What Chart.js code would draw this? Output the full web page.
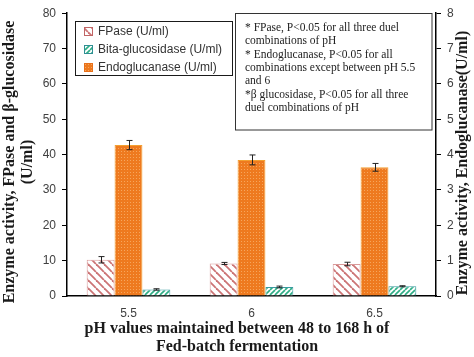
<!DOCTYPE html>
<html>
<head>
<meta charset="utf-8">
<script src="https://cdn.jsdelivr.net/npm/chart.js@4/dist/chart.umd.min.js"></script>
<style>
  html, body { margin: 0; padding: 0; background: #ffffff; }
  #wrap { width: 474px; height: 357px; position: relative; }
</style>
</head>
<body>
<div id="wrap"><canvas id="c" width="474" height="357"></canvas></div>
<script>
// ---- data ----
const categories = ['5.5', '6', '6.5'];
const fpase = [10.25, 9.2, 9.05];
const fpaseErr = [0.9, 0.3, 0.5];
const betaGlucosidase = [1.85, 2.55, 2.75];
const betaErr = [0.2, 0.25, 0.15];
const endoglucanase = [4.27, 3.85, 3.64];
const endoErr = [0.13, 0.14, 0.11];
const legendLabels = ['FPase (U/ml)', 'Bita-glucosidase (U/ml)', 'Endoglucanase (U/ml)'];
const noteLines = [
  '* FPase, P<0.05 for all three duel',
  'combinations of pH',
  '* Endoglucanase, P<0.05 for all',
  'combinations except between pH 5.5',
  'and 6',
  '*\u03B2 glucosidase, P<0.05 for all three',
  'duel combinations of pH'
];
const leftTitle = ['Enzyme activity, FPase and \u03B2-glucosidase', '(U/ml)'];
const rightTitle = 'Enzyme activity, Endoglucanase(U/ml)';
const xTitle = ['pH values maintained between 48 to 168 h of', 'Fed-batch fermentation'];

// ---- patterns ----
function makePattern(size, draw) {
  const c = document.createElement('canvas');
  c.width = size; c.height = size;
  const g = c.getContext('2d');
  draw(g, size);
  return g.createPattern(c, 'repeat');
}
const fpasePattern = makePattern(8, (g, s) => {
  g.fillStyle = '#ffffff'; g.fillRect(0, 0, s, s);
  g.strokeStyle = '#cc7475'; g.lineWidth = 1.8;
  for (const o of [-s, 0, s]) {
    g.beginPath(); g.moveTo(o, 0); g.lineTo(o + s, s); g.stroke();
  }
});
const betaPattern = makePattern(5, (g, s) => {
  g.fillStyle = '#ffffff'; g.fillRect(0, 0, s, s);
  g.strokeStyle = '#2fae86'; g.lineWidth = 1.7;
  for (const o of [-s, 0, s]) {
    g.beginPath(); g.moveTo(o, s); g.lineTo(o + s, 0); g.stroke();
  }
});
const endoPattern = makePattern(3, (g, s) => {
  g.fillStyle = '#ee7a1f'; g.fillRect(0, 0, s, s);
  g.fillStyle = '#f6a65c'; g.fillRect(1, 1, 1, 1);
});

const errorMap = { 0: fpaseErr, 1: endoErr, 2: betaErr };

const errorBars = {
  id: 'errorBars',
  afterDatasetsDraw(chart) {
    const ctx = chart.ctx;
    ctx.save();
    ctx.strokeStyle = '#222222';
    ctx.lineWidth = 1;
    chart.data.datasets.forEach((ds, di) => {
      const meta = chart.getDatasetMeta(di);
      const scale = chart.scales[ds.yAxisID];
      const errs = errorMap[di];
      meta.data.forEach((bar, i) => {
        const v = ds.data[i], e = errs[i];
        const x = Math.round(bar.x) + 0.5;
        const yT = scale.getPixelForValue(v + e);
        const yB = scale.getPixelForValue(v - e);
        ctx.beginPath();
        ctx.moveTo(x, yT); ctx.lineTo(x, yB);
        ctx.moveTo(x - 3, yT); ctx.lineTo(x + 3, yT);
        ctx.moveTo(x - 3, yB); ctx.lineTo(x + 3, yB);
        ctx.stroke();
      });
    });
    ctx.restore();
  }
};

const decorations = {
  id: 'decorations',
  afterDraw(chart) {
    const ctx = chart.ctx;
    ctx.save();
    // legend box
    ctx.fillStyle = '#ffffff';
    ctx.fillRect(75.5, 21.5, 157, 54);
    ctx.strokeStyle = '#1a1a1a'; ctx.lineWidth = 1;
    ctx.strokeRect(75.5, 21.5, 157, 54);
    const sw = [
      { fill: fpasePattern, border: '#c06565' },
      { fill: betaPattern, border: '#2f8f94' },
      { fill: endoPattern, border: '#e8701a' }
    ];
    const rows = [31, 49, 67];
    ctx.font = '12px "Liberation Sans", Arial, sans-serif';
    ctx.textBaseline = 'middle';
    ctx.textAlign = 'left';
    for (let i = 0; i < 3; i++) {
      ctx.fillStyle = sw[i].fill;
      ctx.fillRect(84.5, rows[i] - 4, 8, 8);
      ctx.strokeStyle = sw[i].border;
      ctx.strokeRect(84.5, rows[i] - 4 + 0.5, 8, 8);
      ctx.fillStyle = '#333333';
      ctx.fillText(legendLabels[i], 98, rows[i] + 0.5);
    }
    // note box
    ctx.fillStyle = '#ffffff';
    ctx.fillRect(235.5, 13.5, 196.5, 116.5);
    ctx.strokeStyle = '#333333';
    ctx.strokeRect(235.5, 13.5, 196.5, 116.5);
    ctx.fillStyle = '#222222';
    ctx.font = '11.5px "Liberation Serif", "Times New Roman", serif';
    noteLines.forEach((t, i) => ctx.fillText(t, 245, 28 + i * 13.3));
    // axis titles
    ctx.font = 'bold 16px "Liberation Serif", "Times New Roman", serif';
    ctx.fillStyle = '#1a1a1a';
    ctx.textAlign = 'center';
    ctx.textBaseline = 'middle';
    // left
    ctx.save();
    ctx.translate(10, 162);
    ctx.rotate(-Math.PI / 2);
    ctx.fillText(leftTitle[0], 0, 0);
    ctx.fillText(leftTitle[1], 0, 18);
    ctx.restore();
    // right
    ctx.save();
    ctx.translate(463, 163);
    ctx.rotate(-Math.PI / 2);
    ctx.fillText(rightTitle, 0, 0);
    ctx.restore();
    // bottom
    ctx.fillText(xTitle[0], 237, 329);
    ctx.fillText(xTitle[1], 237, 347);
    ctx.restore();
  }
};

new Chart(document.getElementById('c'), {
  type: 'bar',
  data: {
    labels: categories,
    datasets: [
      { label: legendLabels[0], data: fpase, yAxisID: 'y', backgroundColor: fpasePattern, borderColor: '#d99a9a', borderWidth: 1 },
      { label: legendLabels[2], data: endoglucanase, yAxisID: 'y2', backgroundColor: endoPattern, borderColor: '#f3a030', borderWidth: 1 },
      { label: legendLabels[1], data: betaGlucosidase, yAxisID: 'y', backgroundColor: betaPattern, borderColor: '#3a9aa0', borderWidth: 1 }
    ]
  },
  options: {
    responsive: false,
    animation: false,
    events: [],
    layout: { padding: { top: 7, left: 0, right: 0, bottom: 0 } },
    datasets: { bar: { categoryPercentage: 0.68, barPercentage: 1.0 } },
    plugins: { legend: { display: false }, tooltip: { enabled: false } },
    scales: {
      x: {
        grid: { display: false, drawTicks: false },
        border: { color: '#000000', width: 1.5 },
        ticks: { font: { family: '"Liberation Sans", Arial, sans-serif', size: 12 }, color: '#404040', padding: 10 },
        afterFit(s) { s.height = 61; }
      },
      y: {
        position: 'left', min: 0, max: 80,
        ticks: { stepSize: 10, font: { family: '"Liberation Sans", Arial, sans-serif', size: 12 }, color: '#404040', padding: 6 },
        grid: { drawOnChartArea: false, tickLength: 5, color: '#000000' },
        border: { color: '#000000', width: 1.5 },
        afterFit(s) { s.width = 67; }
      },
      y2: {
        position: 'right', min: 0, max: 8,
        ticks: { stepSize: 1, font: { family: '"Liberation Sans", Arial, sans-serif', size: 12 }, color: '#404040', padding: 6 },
        grid: { drawOnChartArea: false, tickLength: 5, color: '#000000' },
        border: { color: '#000000', width: 1.5 },
        afterFit(s) { s.width = 38; }
      }
    }
  },
  plugins: [errorBars, decorations]
});
</script>
</body>
</html>
